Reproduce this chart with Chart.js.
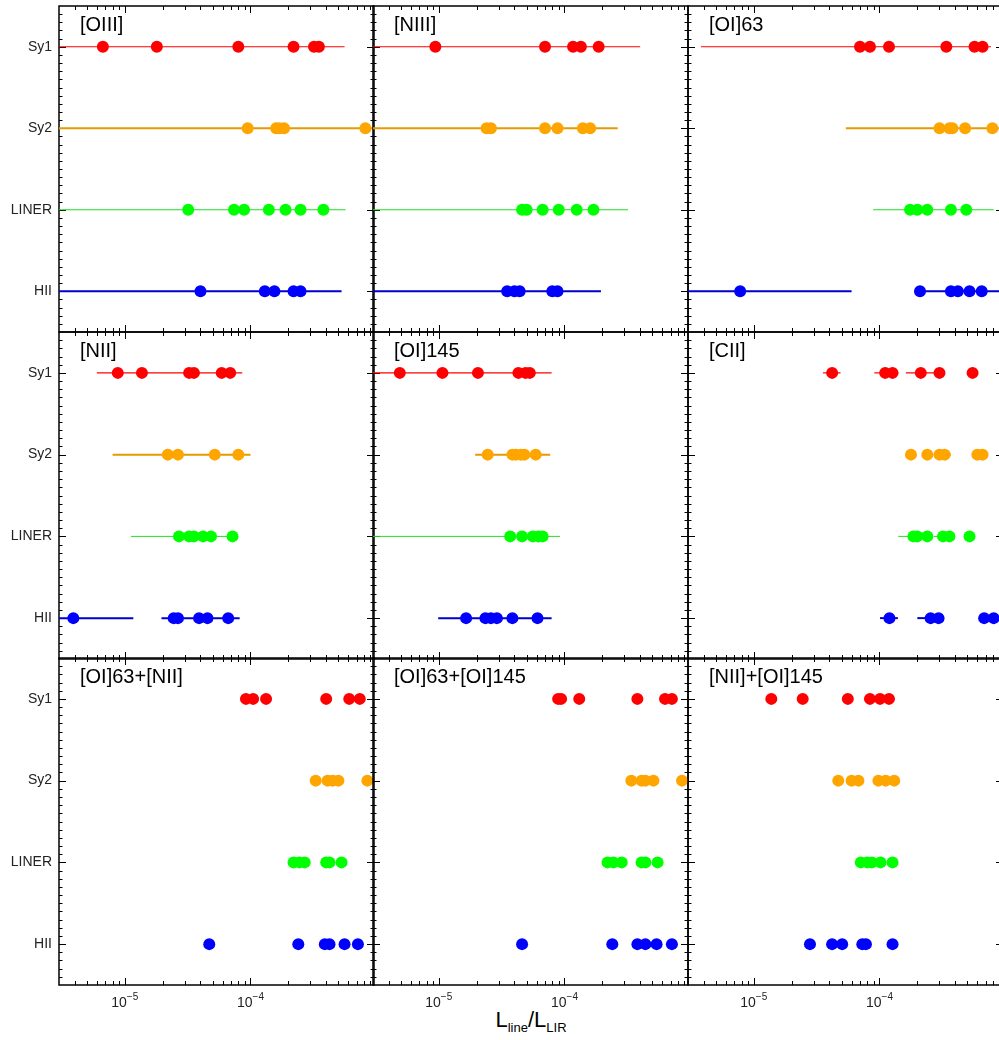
<!DOCTYPE html>
<html>
<head>
<meta charset="utf-8">
<script src="https://cdn.jsdelivr.net/npm/chart.js@4/dist/chart.umd.min.js"></script>
<style>
  html, body { margin: 0; padding: 0; background: #fff; }
  body { width: 999px; height: 1040px; overflow: hidden; position: relative; }
  canvas { position: absolute; }
  #xtitle {
    position: absolute; left: 431px; width: 200px; top: 1009px;
    text-align: center; font-family: "Liberation Sans", sans-serif;
    font-size: 22px; line-height: 1; color: #000;
  }
  #xtitle sub { font-size: 13px; vertical-align: -5px; }
</style>
</head>
<body>
<div id="xtitle">L<sub>line</sub>/L<sub>LIR</sub></div>
<script>
// Panels, left to right, top to bottom
const panelTitles = ["[OIII]", "[NIII]", "[OI]63", "[NII]", "[OI]145", "[CII]",
                     "[OI]63+[NII]", "[OI]63+[OI]145", "[NII]+[OI]145"];
const classNames = ["Sy1", "Sy2", "LINER", "HII"];
const classY = [4, 3, 2, 1];
const pointColors = ["#FF0000", "#FFA500", "#00FF00", "#0000FF"];
const lineColors = ["#FF0000", "#E59A00", "#22DD22", "#0000CC"];
const lineWidths = [1.2, 2, 1, 2];
const xTickLabels = [1e-5, 1e-4];

// L_line/L_LIR of each source, one list per panel
const sy1Points = [
  [6.7e-6, 1.8e-5, 8.0e-5, 2.2e-4, 3.2e-4, 3.5e-4],
  [9.4e-6, 7.0e-5, 1.17e-4, 1.35e-4, 1.87e-4],
  [7.0e-5, 8.4e-5, 1.19e-4, 3.4e-4, 5.7e-4, 6.6e-4],
  [8.8e-6, 1.37e-5, 3.25e-5, 3.55e-5, 5.9e-5, 6.9e-5],
  [4.9e-6, 1.07e-5, 2.05e-5, 4.3e-5, 4.9e-5, 5.3e-5],
  [4.2e-5, 1.11e-4, 1.27e-4, 2.13e-4, 3.0e-4, 5.5e-4],
  [9.2e-5, 1.05e-4, 1.33e-4, 4.0e-4, 6.1e-4, 7.4e-4],
  [8.9e-5, 9.4e-5, 1.31e-4, 3.8e-4, 6.3e-4, 7.15e-4],
  [1.38e-5, 2.45e-5, 5.6e-5, 8.4e-5, 1.01e-4, 1.19e-4]
];
const sy2Points = [
  [9.5e-5, 1.6e-4, 1.7e-4, 1.85e-4, 8.2e-4],
  [2.4e-5, 2.6e-5, 7.0e-5, 8.8e-5, 1.4e-4, 1.6e-4],
  [3.0e-4, 3.6e-4, 3.8e-4, 4.8e-4, 7.9e-4],
  [2.2e-5, 2.65e-5, 5.2e-5, 8.0e-5],
  [2.45e-5, 3.85e-5, 4.1e-5, 4.5e-5, 4.8e-5, 5.9e-5],
  [1.78e-4, 2.4e-4, 3.0e-4, 3.3e-4, 6.0e-4, 6.6e-4],
  [3.3e-4, 4.1e-4, 4.5e-4, 5.0e-4, 8.5e-4],
  [3.4e-4, 4.1e-4, 4.4e-4, 5.1e-4, 8.6e-4],
  [4.7e-5, 6.0e-5, 6.8e-5, 9.8e-5, 1.12e-4, 1.31e-4]
];
const linerPoints = [
  [3.2e-5, 7.4e-5, 8.9e-5, 1.4e-4, 1.9e-4, 2.5e-4, 3.8e-4],
  [4.6e-5, 5.0e-5, 6.7e-5, 9.0e-5, 1.25e-4, 1.7e-4],
  [1.75e-4, 2.0e-4, 2.4e-4, 3.7e-4, 4.9e-4],
  [2.7e-5, 3.25e-5, 3.55e-5, 4.2e-5, 4.85e-5, 7.2e-5],
  [3.7e-5, 4.6e-5, 5.6e-5, 6.2e-5, 6.7e-5],
  [1.86e-4, 2.0e-4, 2.4e-4, 3.2e-4, 3.6e-4, 5.2e-4],
  [2.2e-4, 2.45e-4, 2.7e-4, 4.0e-4, 4.25e-4, 5.3e-4],
  [2.2e-4, 2.45e-4, 2.85e-4, 4.1e-4, 4.4e-4, 5.5e-4],
  [7.1e-5, 8.0e-5, 8.7e-5, 1.02e-4, 1.27e-4]
];
const hiiPoints = [
  [4.0e-5, 1.3e-4, 1.55e-4, 2.2e-4, 2.5e-4],
  [3.5e-5, 4.0e-5, 4.4e-5, 8.0e-5, 8.8e-5],
  [7.8e-6, 2.1e-4, 3.7e-4, 4.2e-4, 5.2e-4, 6.5e-4],
  [3.9e-6, 2.45e-5, 2.65e-5, 3.9e-5, 4.55e-5, 6.65e-5],
  [1.65e-5, 2.35e-5, 2.6e-5, 2.9e-5, 3.85e-5, 6.1e-5],
  [1.2e-4, 2.55e-4, 2.95e-4, 6.8e-4, 8.1e-4],
  [4.7e-5, 2.4e-4, 3.9e-4, 4.25e-4, 5.6e-4, 7.15e-4],
  [4.6e-5, 2.4e-4, 3.8e-4, 4.4e-4, 5.4e-4, 7.15e-4],
  [2.8e-5, 4.2e-5, 5.05e-5, 7.3e-5, 7.8e-5, 1.27e-4]
];

// horizontal range bars [from, to], one list per panel
const sy1Ranges = [
  [[2e-6, 5.6e-4]], [[2e-6, 4.0e-4]], [[3.8e-6, 7.7e-4]],
  [[6.0e-6, 8.6e-5]], [[2e-6, 7.9e-5]],
  [[3.55e-5, 4.9e-5], [9.1e-5, 1.41e-4], [1.62e-4, 3.15e-4]],
  [], [], []
];
const sy2Ranges = [
  [[2e-6, 1e-3]], [[2e-6, 2.65e-4]], [[5.4e-5, 1e-3]],
  [[8.0e-6, 1.0e-4]], [[1.95e-5, 7.7e-5]], [[2.7e-4, 3.7e-4]],
  [], [], []
];
const linerRanges = [
  [[2e-6, 5.7e-4]], [[2e-6, 3.2e-4]], [[8.9e-5, 8.1e-4]],
  [[1.12e-5, 7.2e-5]], [[2e-6, 9.2e-5]],
  [[1.41e-4, 1.86e-4], [2.7e-4, 3.5e-4]],
  [], [], []
];
const hiiRanges = [
  [[2e-6, 5.3e-4]], [[2e-6, 1.95e-4]], [[2e-6, 6.0e-5], [2.1e-4, 1e-3]],
  [[2e-6, 1.17e-5], [1.96e-5, 8.2e-5]], [[9.9e-6, 7.9e-5]],
  [[1.01e-4, 1.4e-4], [2.0e-4, 2.9e-4]],
  [], [], []
];

const allPoints = [sy1Points, sy2Points, linerPoints, hiiPoints];
const allRanges = [sy1Ranges, sy2Ranges, linerRanges, hiiRanges];

const xMin = 3e-6, xMax = 9.6e-4;
const panelLeft = [59, 373, 688];
const panelTop = [5, 332, 658];
const PW = 315, PH = 327, PAD = 8;

function supLabel(v) {
  return "\u2212" + Math.round(-Math.log10(v));
}

const framePlugin = {
  id: "frame",
  beforeDatasetsDraw(chart, args, opts) {
    const { ctx, chartArea: a } = chart;
    const x = chart.scales.x, y = chart.scales.y;
    ctx.save();
    ctx.strokeStyle = "#000";
    ctx.lineWidth = 1;
    ctx.beginPath();
    for (let d = -6; d <= -3; d++) {
      for (let m = 1; m <= 9; m++) {
        const v = m * Math.pow(10, d);
        if (v <= xMin || v >= xMax) continue;
        const px = Math.round(x.getPixelForValue(v)) + 0.5;
        const len = m === 1 ? 7 : 4;
        ctx.moveTo(px, a.bottom); ctx.lineTo(px, a.bottom - len);
        ctx.moveTo(px, a.top); ctx.lineTo(px, a.top + len);
      }
    }
    for (let k = 6; k <= 44; k++) {
      const py = Math.round(y.getPixelForValue(k / 10)) + 0.5;
      const len = k % 10 === 0 ? 7 : 3.5;
      ctx.moveTo(a.left, py); ctx.lineTo(a.left + len, py);
      ctx.moveTo(a.right, py); ctx.lineTo(a.right - len, py);
    }
    ctx.stroke();
    ctx.lineWidth = 1.5;
    ctx.strokeRect(a.left, a.top, a.right - a.left, a.bottom - a.top);

    ctx.fillStyle = "#000";
    ctx.font = '20px "Liberation Sans"';
    ctx.textBaseline = "alphabetic";
    ctx.textAlign = "left";
    ctx.fillText(opts.title, a.left + 21, a.top + 25);

    if (opts.yLabels) {
      ctx.font = '14px "Liberation Sans"';
      ctx.fillStyle = "#222";
      ctx.textAlign = "right";
      ctx.textBaseline = "middle";
      classNames.forEach((name, i) => {
        ctx.fillText(name, a.left - 7, y.getPixelForValue(classY[i]));
      });
    }
    if (opts.xLabels) {
      ctx.fillStyle = "#222";
      ctx.textAlign = "left";
      ctx.textBaseline = "alphabetic";
      xTickLabels.forEach(v => {
        const cx = x.getPixelForValue(v);
        ctx.font = '14px "Liberation Sans"';
        const w1 = ctx.measureText("10").width;
        ctx.font = '10px "Liberation Sans"';
        const w2 = ctx.measureText(supLabel(v)).width;
        const x0 = cx - (w1 + w2) / 2;
        ctx.font = '14px "Liberation Sans"';
        ctx.fillText("10", x0, a.bottom + 22);
        ctx.font = '10px "Liberation Sans"';
        ctx.fillText(supLabel(v), x0 + w1, a.bottom + 15);
      });
    }
    ctx.restore();
  }
};

for (let p = 0; p < 9; p++) {
  const col = p % 3, row = Math.floor(p / 3);
  const padLeft = col === 0 ? panelLeft[0] : PAD;
  const padTop = Math.min(PAD, panelTop[row]);
  const padBottom = row === 2 ? 1040 - (panelTop[2] + PH) : PAD;
  const canvas = document.createElement("canvas");
  canvas.width = padLeft + PW + PAD;
  canvas.height = padTop + PH + padBottom;
  canvas.style.left = (panelLeft[col] - padLeft) + "px";
  canvas.style.top = (panelTop[row] - padTop) + "px";
  document.body.appendChild(canvas);

  const datasets = [];
  classNames.forEach((name, i) => {
    allRanges[i][p].forEach(seg => {
      datasets.push({
        data: [{ x: seg[0], y: classY[i] }, { x: seg[1], y: classY[i] }],
        showLine: true,
        borderColor: lineColors[i],
        borderWidth: lineWidths[i],
        pointRadius: 0,
        order: 1
      });
    });
    datasets.push({
      label: name,
      data: allPoints[i][p].map(v => ({ x: v, y: classY[i] })),
      pointBackgroundColor: pointColors[i],
      pointBorderWidth: 0,
      pointRadius: 6,
      pointHoverRadius: 6,
      clip: false,
      order: 0
    });
  });

  new Chart(canvas, {
    type: "scatter",
    data: { datasets: datasets },
    options: {
      responsive: false,
      animation: false,
      events: [],
      layout: { padding: { left: padLeft, right: PAD, top: padTop, bottom: padBottom } },
      scales: {
        x: { type: "logarithmic", min: xMin, max: xMax, display: false },
        y: { type: "linear", min: 0.5, max: 4.5, display: false }
      },
      plugins: {
        legend: { display: false },
        tooltip: { enabled: false },
        frame: { title: panelTitles[p], yLabels: col === 0, xLabels: row === 2 }
      }
    },
    plugins: [framePlugin]
  });
}
</script>
</body>
</html>
